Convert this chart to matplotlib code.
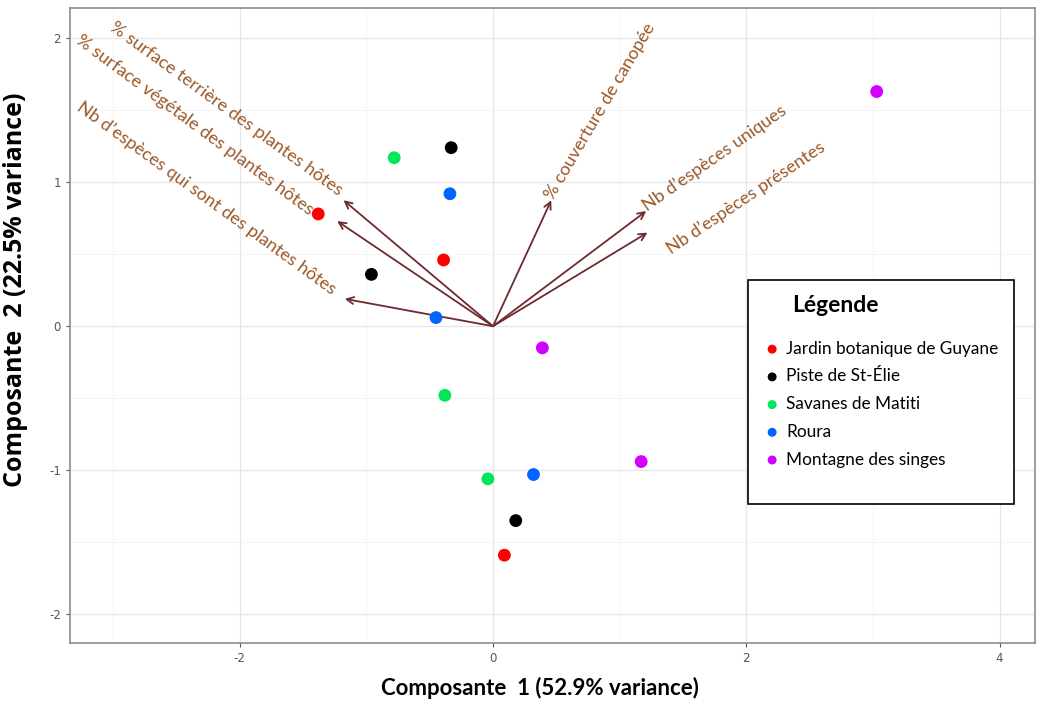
import numpy as np
import matplotlib
matplotlib.use('Agg')
import matplotlib.pyplot as plt
from matplotlib.ticker import MultipleLocator
from matplotlib.offsetbox import DrawingArea, VPacker

plt.rcParams['axes.unicode_minus'] = False

# site scores on the first two components
sites = ['Jardin botanique de Guyane', 'Piste de St-Élie', 'Savanes de Matiti',
         'Roura', 'Montagne des singes']
site_colors = ['#ff0000', '#000000', '#00e85a', '#0064ff', '#d100ff']
pc1 = [[-1.38, -0.39, 0.09],
       [-0.33, -0.96, 0.18],
       [-0.78, -0.38, -0.04],
       [-0.34, -0.45, 0.32],
       [3.03, 0.39, 1.17]]
pc2 = [[0.78, 0.46, -1.59],
       [1.24, 0.36, -1.35],
       [1.17, -0.48, -1.06],
       [0.92, 0.06, -1.03],
       [1.63, -0.15, -0.94]]

# variable loadings (arrows)
var_names = ['% surface terrière des plantes hôtes',
             '% surface végétale des plantes hôtes',
             'Nb d\u2019espèces qui sont des plantes hôtes',
             '% couverture de canopée',
             'Nb d\u2019espèces uniques',
             'Nb d\u2019espèces présentes']
load_x = [-1.18, -1.23, -1.17, 0.46, 1.21, 1.22]
load_y = [0.875, 0.73, 0.19, 0.875, 0.80, 0.65]

# label placement: anchor point, rotation, alignment
lab_x = [-1.24, -1.47, -1.29, 0.50, 1.23, 1.42]
lab_y = [0.89, 0.75, 0.20, 0.86, 0.78, 0.48]
lab_rot = [-36, -36.5, -36, 59.5, 35, 34]
lab_ha = ['right', 'right', 'right', 'left', 'left', 'left']

arrow_col = '#6e2a2e'
text_col = '#9b5a2a'

fig = plt.figure(figsize=(10.51, 7.07), dpi=100)
ax = fig.add_axes([0.0666, 0.0905, 0.9182, 0.8982])

ax.set_xlim(-3.34, 4.28)
ax.set_ylim(-2.20, 2.21)
ax.xaxis.set_major_locator(MultipleLocator(2))
ax.xaxis.set_minor_locator(MultipleLocator(1))
ax.yaxis.set_major_locator(MultipleLocator(1))
ax.yaxis.set_minor_locator(MultipleLocator(0.5))
ax.grid(True, which='major', color='#e6e6e6', lw=0.9)
ax.grid(True, which='minor', color='#f2f2f2', lw=0.6)
ax.set_axisbelow(True)
for s in ax.spines.values():
    s.set_color('#8c8c8c')
    s.set_linewidth(1.2)
ax.tick_params(which='major', colors='#555555', labelsize=8.5, length=3, width=0.8)
ax.tick_params(which='minor', length=0)

for i in range(len(sites)):
    ax.scatter(pc1[i], pc2[i], s=85, color=site_colors[i], edgecolors='none',
               label=sites[i], zorder=4)

for i in range(len(var_names)):
    ax.annotate('', xy=(load_x[i], load_y[i]), xytext=(0, 0),
                arrowprops=dict(arrowstyle='->,head_length=0.5,head_width=0.25',
                                color=arrow_col, lw=1.3, shrinkA=0, shrinkB=0),
                zorder=3)
    ax.text(lab_x[i], lab_y[i], var_names[i], rotation=lab_rot[i],
            rotation_mode='anchor', ha=lab_ha[i], va='bottom',
            color=text_col, fontsize=13, family='Lato', zorder=5)

ax.set_xlabel('Composante  1 (52.9% variance)', fontsize=16, fontweight='bold',
              family='Lato')
ax.xaxis.set_label_coords(0.487, -0.053)
ax.set_ylabel('Composante  2 (22.5% variance)', fontsize=18, fontweight='bold',
              family='Open Sans')
ax.yaxis.set_label_coords(-0.0435, 0.557)

leg = ax.legend(loc='upper left', bbox_to_anchor=(0.7026, 0.5717), frameon=True,
                fancybox=False, edgecolor='black', framealpha=1,
                title='Légende', title_fontproperties={'family': 'Lato', 'weight': 'bold', 'size': 16.5},
                prop={'family': 'Lato', 'size': 12.4}, borderpad=0.9,
                labelspacing=0.68, handletextpad=0.3, markerscale=0.7,
                handlelength=1.0, borderaxespad=0)
leg.get_frame().set_linewidth(1.2)
# extra room under the title and below the last entry
box = leg._legend_box
box.align = 'left'
box.sep += 9
box._children[1] = VPacker(children=[box._children[1], DrawingArea(1, 15)],
                           pad=0, sep=0, align='left')
leg.get_title().set_position((29, 0))

fig.savefig('out.png', dpi=100)
